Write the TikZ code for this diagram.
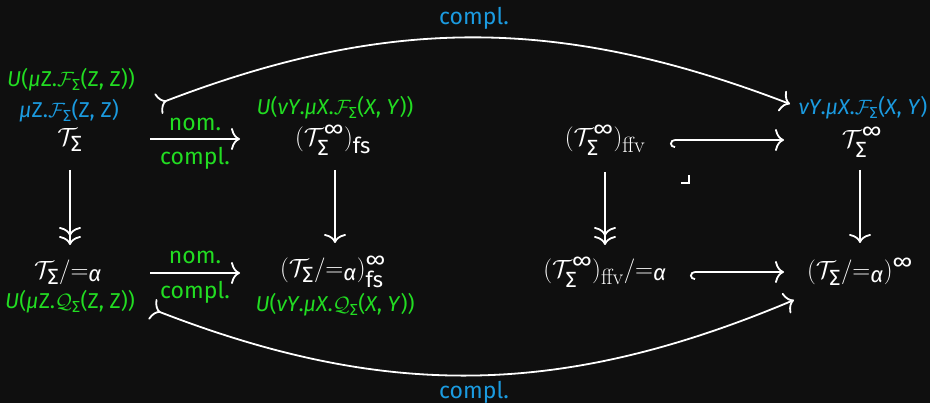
\documentclass[tikz,border=0pt]{standalone}
\usepackage{amsmath}
\usepackage{fontspec}
\setmainfont{Fira Sans}
\newfontfamily\lmr{Latin Modern Roman}
\usetikzlibrary{arrows.meta}
\DeclareMathSizes{28}{28}{22}{17}
\DeclareMathSizes{21.5}{21.5}{16}{13}
\definecolor{bg}{HTML}{0F0F0F}
\definecolor{grn}{HTML}{22DD22}
\definecolor{blu}{HTML}{1B9BE0}
\newcommand{\cT}{\mathcal{T}}
\newcommand{\Sig}{\text{Σ}}
\newcommand{\infy}{\text{∞}}
\newcommand{\ffv}{\text{\lmr ffv}}
\newcommand{\eqa}{{=}_{\textit{α}}}
\begin{document}
\begin{tikzpicture}[x=1pt,y=-1pt,
  >={Computer Modern Rightarrow[length=9pt,width=22pt]},
  main/.style={text=white,font=\fontsize{28}{30}\selectfont,inner sep=0pt},
  glab/.style={text=grn,font=\fontsize{21.5}{23}\selectfont,inner sep=0pt},
  blab/.style={text=blu,font=\fontsize{21.5}{23}\selectfont,inner sep=0pt},
  elab/.style={text=grn,font=\fontsize{23}{25}\selectfont,inner sep=0pt},
  clab/.style={text=blu,font=\fontsize{23}{25}\selectfont,inner sep=0pt},
  arr/.style={draw=white,line width=1.8pt},
  hk/.style={arr,{Hooks[left,length=5pt,width=16pt]}->}]
\fill[bg] (0,0) rectangle (930,403);
\useasboundingbox (0,0) rectangle (930,403);
% top row
\node[glab] (g1) at (71,80) {\textit{U}(\textit{μ}Z.$\mathcal{F}_{\Sig}$(Z, Z))};
\node[blab] (b1) at (69,111) {\textit{μ}Z.$\mathcal{F}_{\Sig}$(Z, Z)};
\node[main] (ts) at (70,140) {$\cT_{\Sig}$};
\node[glab] (g2) at (335,108) {\textit{U}(\textit{νY}.\textit{μX}.$\mathcal{F}_{\Sig}$(\textit{X}, \textit{Y}))};
\node[main] (fs) at (333,140) {$(\cT_{\Sig}^{\infy})_{\text{fs}}$};
\node[main] (ff) at (605,140) {$(\cT_{\Sig}^{\infy})_{\ffv}$};
\node[blab] (b2) at (863,108) {\textit{νY}.\textit{μX}.$\mathcal{F}_{\Sig}$(\textit{X}, \textit{Y})};
\node[main] (ti) at (862,142) {$\cT_{\Sig}^{\infy}$};
% bottom row
\node[main] (tsa) at (68,272) {$\cT_{\Sig}/\eqa$};
\node[glab] (g3) at (70,302) {\textit{U}(\textit{μ}Z.$\mathcal{Q}_{\Sig}$(Z, Z))};
\node[main] (fsa) at (333,272) {$(\cT_{\Sig}/\eqa)^{\infy}_{\text{fs}}$};
\node[glab] (g4) at (335,305) {\textit{U}(\textit{νY}.\textit{μX}.$\mathcal{Q}_{\Sig}$(\textit{X}, \textit{Y}))};
\node[main] (ffa) at (605,272) {$(\cT_{\Sig}^{\infy})_{\ffv}/\eqa$};
\node[main] (tia) at (860,272) {$(\cT_{\Sig}/\eqa)^{\infy}$};
% horizontal arrows
\coordinate (h1s) at (150,139); \coordinate (h1e) at (240,139);
\draw[arr,->] (h1s) -- (h1e);
\node[elab] (n1) at (195,124) {nom.};
\node[elab] (c1) at (195,158) {compl.};
\coordinate (h2s) at (670,140); \coordinate (h2e) at (784,140);
\draw[hk] (h2s) -- (h2e);
\coordinate (h3s) at (150,273); \coordinate (h3e) at (240,273);
\draw[arr,->] (h3s) -- (h3e);
\node[elab] (n3) at (195,257) {nom.};
\node[elab] (c3) at (195,292) {compl.};
\coordinate (h4s) at (690,272); \coordinate (h4e) at (784,272);
\draw[hk] (h4s) -- (h4e);
% vertical arrows
\coordinate (v1s) at (70,170); \coordinate (v1e) at (70,245);
\draw[arr,->>] (v1s) -- (v1e);
\coordinate (v2s) at (335,170); \coordinate (v2e) at (335,243);
\draw[arr,->] (v2s) -- (v2e);
\coordinate (v3s) at (605,172); \coordinate (v3e) at (605,245);
\draw[arr,->>] (v3s) -- (v3e);
\coordinate (v4s) at (860,170); \coordinate (v4e) at (860,243);
\draw[arr,->] (v4s) -- (v4e);
% pullback corner
\draw[white,line width=1.2pt] (681,183) -- (689,183) -- (689,175);
% curved arrows
\coordinate (t1s) at (158,104); \coordinate (t1e) at (790,104);
\draw[arr,>->] (t1s) to[bend left=21] node[clab,pos=0.5,above=7pt] (ct) {compl.} (t1e);
\coordinate (t2s) at (152,309); \coordinate (t2e) at (794,300);
\draw[arr,>->] (t2s) to[bend right=22] node[clab,pos=0.5,below=5pt] (cb) {compl.} (t2e);
\end{tikzpicture}
\end{document}
